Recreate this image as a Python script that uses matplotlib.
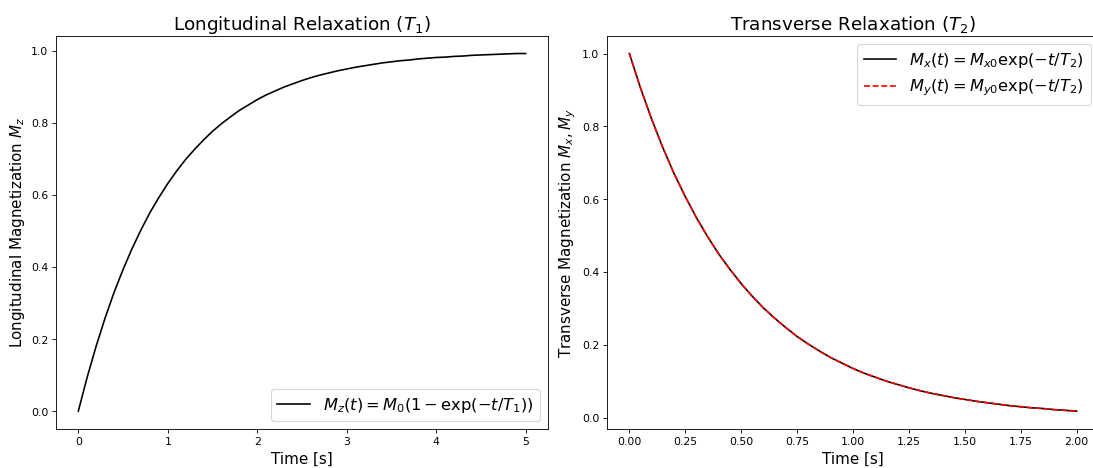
import matplotlib
matplotlib.use("Agg")
import matplotlib.pyplot as plt

# time grids (x positions of the samples)
t_long = [round(i * 0.1, 2) for i in range(51)]
t_trans = [round(i * 0.05, 2) for i in range(41)]

# values
mz = [0.000, 0.095, 0.181, 0.259, 0.330, 0.393, 0.451, 0.503, 0.551, 0.593,
      0.632, 0.667, 0.699, 0.727, 0.753, 0.777, 0.798, 0.817, 0.835, 0.850,
      0.865, 0.878, 0.889, 0.900, 0.909, 0.918, 0.926, 0.933, 0.939, 0.945,
      0.950, 0.955, 0.959, 0.963, 0.967, 0.970, 0.973, 0.975, 0.978, 0.980,
      0.982, 0.983, 0.985, 0.986, 0.988, 0.989, 0.990, 0.991, 0.992, 0.993,
      0.993]
mx = [1.000, 0.905, 0.819, 0.741, 0.670, 0.607, 0.549, 0.497, 0.449, 0.407,
      0.368, 0.333, 0.301, 0.273, 0.247, 0.223, 0.202, 0.183, 0.165, 0.150,
      0.135, 0.122, 0.111, 0.100, 0.091, 0.082, 0.074, 0.067, 0.061, 0.055,
      0.050, 0.045, 0.041, 0.037, 0.033, 0.030, 0.027, 0.025, 0.022, 0.020,
      0.018]
my = list(mx)

fig, (ax1, ax2) = plt.subplots(1, 2, figsize=(14, 6))
# the reference is cropped on the right, the second axes runs past the edge
fig.subplots_adjust(left=0.0512, right=1.0055, bottom=0.0833, top=0.923, wspace=0.12)

ax1.plot(t_long, mz, color="black", label=r"$M_z(t) = M_0(1 - \exp(-t/T_1))$")
ax1.set_title(r"Longitudinal Relaxation ($T_1$)", fontsize=17)
ax1.set_xlabel("Time [s]", fontsize=14)
ax1.set_ylabel(r"Longitudinal Magnetization $M_z$", fontsize=14)
ax1.legend(loc="lower right", fontsize=15)

ax2.plot(t_trans, mx, color="black", label=r"$M_x(t) = M_{x0}\exp(-t/T_2)$")
ax2.plot(t_trans, my, color="red", linestyle="--", label=r"$M_y(t) = M_{y0}\exp(-t/T_2)$")
ax2.set_title(r"Transverse Relaxation ($T_2$)", fontsize=17)
ax2.set_xlabel("Time [s]", fontsize=14)
ax2.set_ylabel(r"Transverse Magnetization $M_x, M_y$", fontsize=14)
ax2.legend(loc="upper right", fontsize=15)

plt.savefig("out.png", dpi=1093 / 14)
